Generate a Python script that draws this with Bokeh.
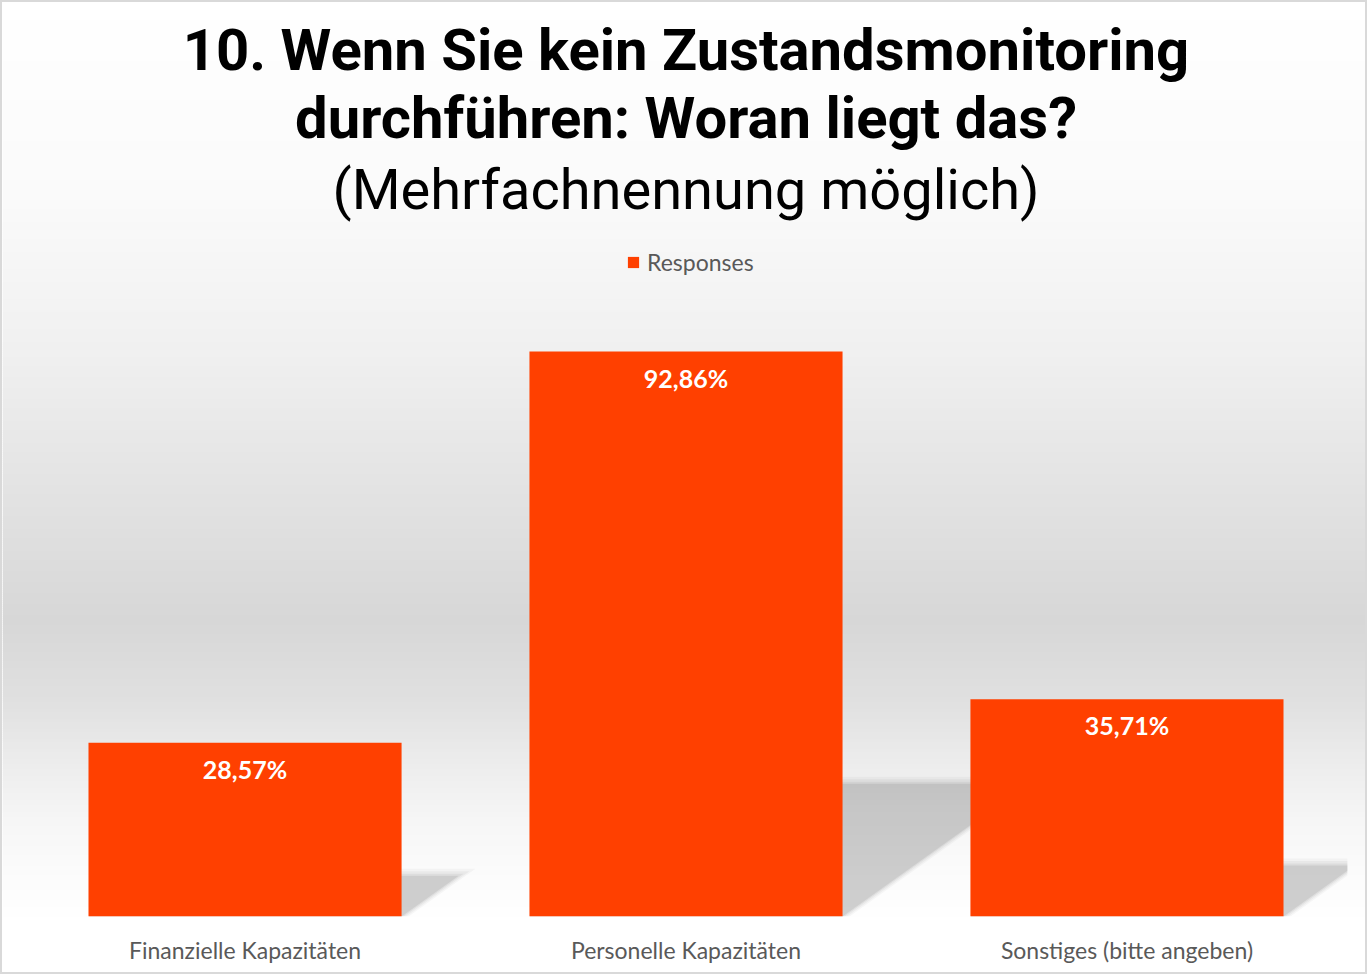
import numpy as np
from bokeh.plotting import figure
from bokeh.models import Range1d, FixedTicker, Legend, LegendItem, Label, ColumnDataSource
from bokeh.embed import file_html
from bokeh.resources import INLINE
from bokeh.core.properties import value

# ---- data ----
categories = ["Finanzielle Kapazitäten", "Personelle Kapazitäten", "Sonstiges (bitte angeben)"]
responses = [28.57, 92.86, 35.71]
series_name = "Responses"
title_lines = ["10. Wenn Sie kein Zustandsmonitoring", "durchführen: Woran liegt das?"]
subtitle = "(Mehrfachnennung möglich)"

BAR = "#FF4000"
W, H = 1367, 974
BOTTOM = 60
Y_TOP = 150.2
PX = (H - BOTTOM) / Y_TOP          # pixels per percent
XPX = W / 3.1                       # pixels per category
BASE_FIX = 0.39                     # baseline correction (em)

def ypx(page_y):
    return (916 - page_y) / PX

xs = list(range(len(categories)))
label_texts = [f"{v:.2f}".replace(".", ",") + "%" for v in responses]

p = figure(width=W, height=H, x_range=Range1d(-0.55, 2.55), y_range=Range1d(0, Y_TOP),
           output_backend="svg", toolbar_location=None,
           min_border_left=0, min_border_right=0, min_border_top=0, min_border_bottom=BOTTOM,
           border_fill_color="white", background_fill_color="white", outline_line_color=None)
p.styles = {"border": "2px solid #d9d9d9"}

# ---- background gradient (styling) ----
stops_y = [0, 200, 350, 500, 620, 700, 760, 820, 880, 916]
stops_g = [255, 250, 240, 226, 215, 224, 236, 246, 252, 254]
ys = np.arange(0, 916, 2)
g = np.interp(ys + 1, stops_y, stops_g).round().astype(int)
cols = ["#%02x%02x%02x" % (v, v, v) for v in g]
p.quad(left=-0.55, right=2.55, top=[ypx(y) for y in ys], bottom=[ypx(y + 2.6) for y in ys],
       fill_color=cols, line_color=None)

# ---- shadows derived from bar values ----
k = 1.4 * PX / XPX
half = 0.355
def shadow(i, v, grow_px=0.0):
    sh = v * 0.235 + grow_px / PX
    x0 = i - half
    x1 = i + half + grow_px / XPX
    dx = k * sh
    xr = 2.5
    if x1 + dx > xr:
        t = (xr - x1) / dx
        return [x0, x1, xr, xr, x0 + dx], [0, 0, t * sh, sh, sh]
    return [x0, x1, x1 + dx, x0 + dx], [0, 0, sh, sh]

for grow, alpha in [(7, 0.03), (4.5, 0.04), (2, 0.05), (0, 0.075)]:
    sx, sy = [], []
    for i, v in zip(xs, responses):
        a, b = shadow(i, v, grow)
        sx.append(a); sy.append(b)
    p.patches(xs=sx, ys=sy, fill_color="black", fill_alpha=alpha, line_color=None)

# ---- bars ----
src = ColumnDataSource(dict(x=xs, top=responses, label=label_texts))
bars = p.vbar(x="x", top="top", width=0.71, source=src, fill_color=BAR, line_color=None)
p.text(x="x", y="top", text="label", source=src, text_align="center", text_baseline="alphabetic",
       y_offset=36 - BASE_FIX * 25, text_color="white", text_font=value("Lato"),
       text_font_style="bold", text_font_size="25px")

# ---- titles ----
for line, base in zip(title_lines, [72, 140]):
    p.add_layout(Label(x=1, y=ypx(base - BASE_FIX * 58), text=line, text_align="center",
                       text_baseline="alphabetic", text_font="Roboto", text_font_style="bold",
                       text_font_size="58px", text_color="black"))
p.add_layout(Label(x=1, y=ypx(211.5 - BASE_FIX * 56), text=subtitle, text_align="center",
                   text_baseline="alphabetic", text_font="Roboto", text_font_style="normal",
                   text_font_size="56px", text_color="black"))

# ---- legend ----
legend = Legend(items=[LegendItem(label=series_name, renderers=[bars])], location=(624, 640.5),
                orientation="horizontal", padding=0, margin=0, spacing=0,
                glyph_width=14, glyph_height=14, label_standoff=7, label_height=23,
                label_text_font="Lato", label_text_font_size="23px", label_text_color="#595959",
                background_fill_alpha=0, border_line_color=None)
p.add_layout(legend)

# ---- axes ----
p.xaxis.ticker = FixedTicker(ticks=xs)
p.xaxis.major_label_overrides = {i: c for i, c in zip(xs, categories)}
p.xaxis.axis_line_color = None
p.xaxis.major_tick_line_color = None
p.xaxis.minor_tick_line_color = None
p.xaxis.major_label_standoff = 13
p.xaxis.major_label_text_font = "Lato"
p.xaxis.major_label_text_font_size = "23px"
p.xaxis.major_label_text_color = "#595959"
p.yaxis.visible = False
p.xgrid.grid_line_color = None
p.ygrid.grid_line_color = None

open("out.html", "w").write(file_html(p, INLINE))
